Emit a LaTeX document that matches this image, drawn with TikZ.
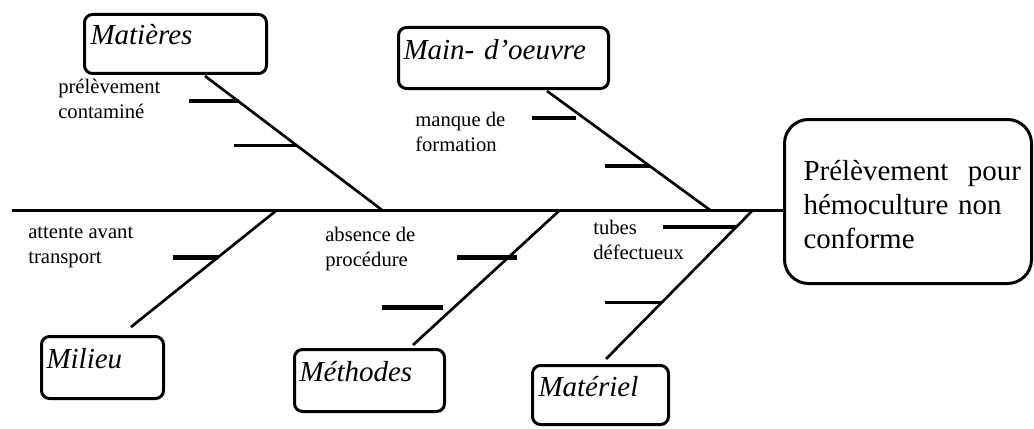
\documentclass[tikz,border=0pt]{standalone}
\usepackage{fontspec}
\setmainfont{Liberation Serif}
\usetikzlibrary{calc}
\begin{document}
\begin{tikzpicture}[x=0.75pt,y=-0.75pt,
  catbox/.style={draw, line width=2.25pt, rounded corners=6pt, anchor=north west,
    inner ysep=0pt, align=left, font=\fontsize{21.75}{26}\selectfont\itshape},
  resbox/.style={draw, line width=2.25pt, rounded corners=18pt, anchor=north west,
    inner ysep=0pt, inner xsep=14.25pt, text width=156.75pt, align=left,
    font=\fontsize{21.75}{25.5}\selectfont},
  spine/.style={line width=2.25pt},
  bone/.style={line width=2pt},
  twigA/.style={line width=3pt},
  twigB/.style={line width=2.25pt},
  twigC/.style={line width=3.75pt},
  lbl/.style={anchor=north west, inner sep=0pt, align=left,
    font=\fontsize{15.5}{18.75}\selectfont}]
\useasboundingbox (0,0) rectangle (1034,428);

% effect box
\node[resbox, text height=45.75pt, text depth=77.25pt] (res) at (783,118)
  {Prélèvement~~pour\\hémoculture non\\conforme};

% category boxes
\node[catbox, inner xsep=4.5pt, text width=127.5pt, text height=22.5pt, text depth=21.75pt]
  (mat) at (83,13) {Matières};
\node[catbox, inner xsep=3.75pt, text width=150pt, text height=24pt, text depth=21.75pt]
  (mo) at (397,26) {Main- d’oeuvre};
\node[catbox, inner xsep=3.75pt, text width=84pt, text height=24pt, text depth=22.5pt]
  (mil) at (40,335) {Milieu};
\node[catbox, inner xsep=3.75pt, text width=105pt, text height=24pt, text depth=22.5pt]
  (meth) at (293,348) {Méthodes};
\node[catbox, inner xsep=4.5pt, text width=93pt, text height=23.25pt, text depth=21pt]
  (matl) at (531,364) {Matériel};

% spine
\coordinate (s0) at (12,210);
\draw[spine] (s0) -- (s0 -| res.west);

% joints on spine
\coordinate (j1) at (382,210);
\coordinate (j2) at (710,210);
\coordinate (j3) at (277,210);
\coordinate (j4) at (560,210);
\coordinate (j5) at (753,210);

% bone ends at boxes
\coordinate (t1) at ([shift={(122,1)}]mat.south west);
\coordinate (t2) at ([shift={(150,1)}]mo.south west);
\coordinate (t3) at ([shift={(91,-8)}]mil.north west);
\coordinate (t4) at ([shift={(120,-3)}]meth.north west);
\coordinate (t5) at ([shift={(75,-5)}]matl.north west);

\draw[bone] (t1) -- (j1);
\draw[bone] (t2) -- (j2);
\draw[bone] (t3) -- (j3);
\draw[bone] (t4) -- (j4);
\draw[bone] (t5) -- (j5);

% twigs
\draw[twigA] ($(t1)!0.19!(j1)$) -- ++(-50,0);
\draw[twigB] ($(t1)!0.518!(j1)$) -- ++(-63,0);
\coordinate (w1) at (532,118);
\draw[twigA] (w1) -- ++(44,0);
\draw[twigA] ($(t2)!0.631!(j2)$) -- ++(-45,0);
\draw[twigC] ($(j3)!0.402!(t3)$) -- ++(-45,0);
\coordinate (w2) at (457,257);
\draw[twigC] (w2) -- ++(60,0);
\coordinate (w3) at (382,307);
\draw[twigC] (w3) -- ++(61,0);
\draw[twigA] ($(j5)!0.114!(t5)$) -- ++(-73,0);
\draw[twigB] ($(j5)!0.624!(t5)$) -- ++(-56,0);

% cause labels
\node[lbl] (l1) at (58,79) {prélèvement\\contaminé};
\node[lbl] (l2) at (415,112) {manque de\\formation};
\node[lbl] (l3) at (28,227) {attente avant\\transport};
\node[lbl] (l4) at (325,227) {absence de\\procédure};
\node[lbl] (l5) at (593,220) {tubes\\défectueux};
\end{tikzpicture}
\end{document}
